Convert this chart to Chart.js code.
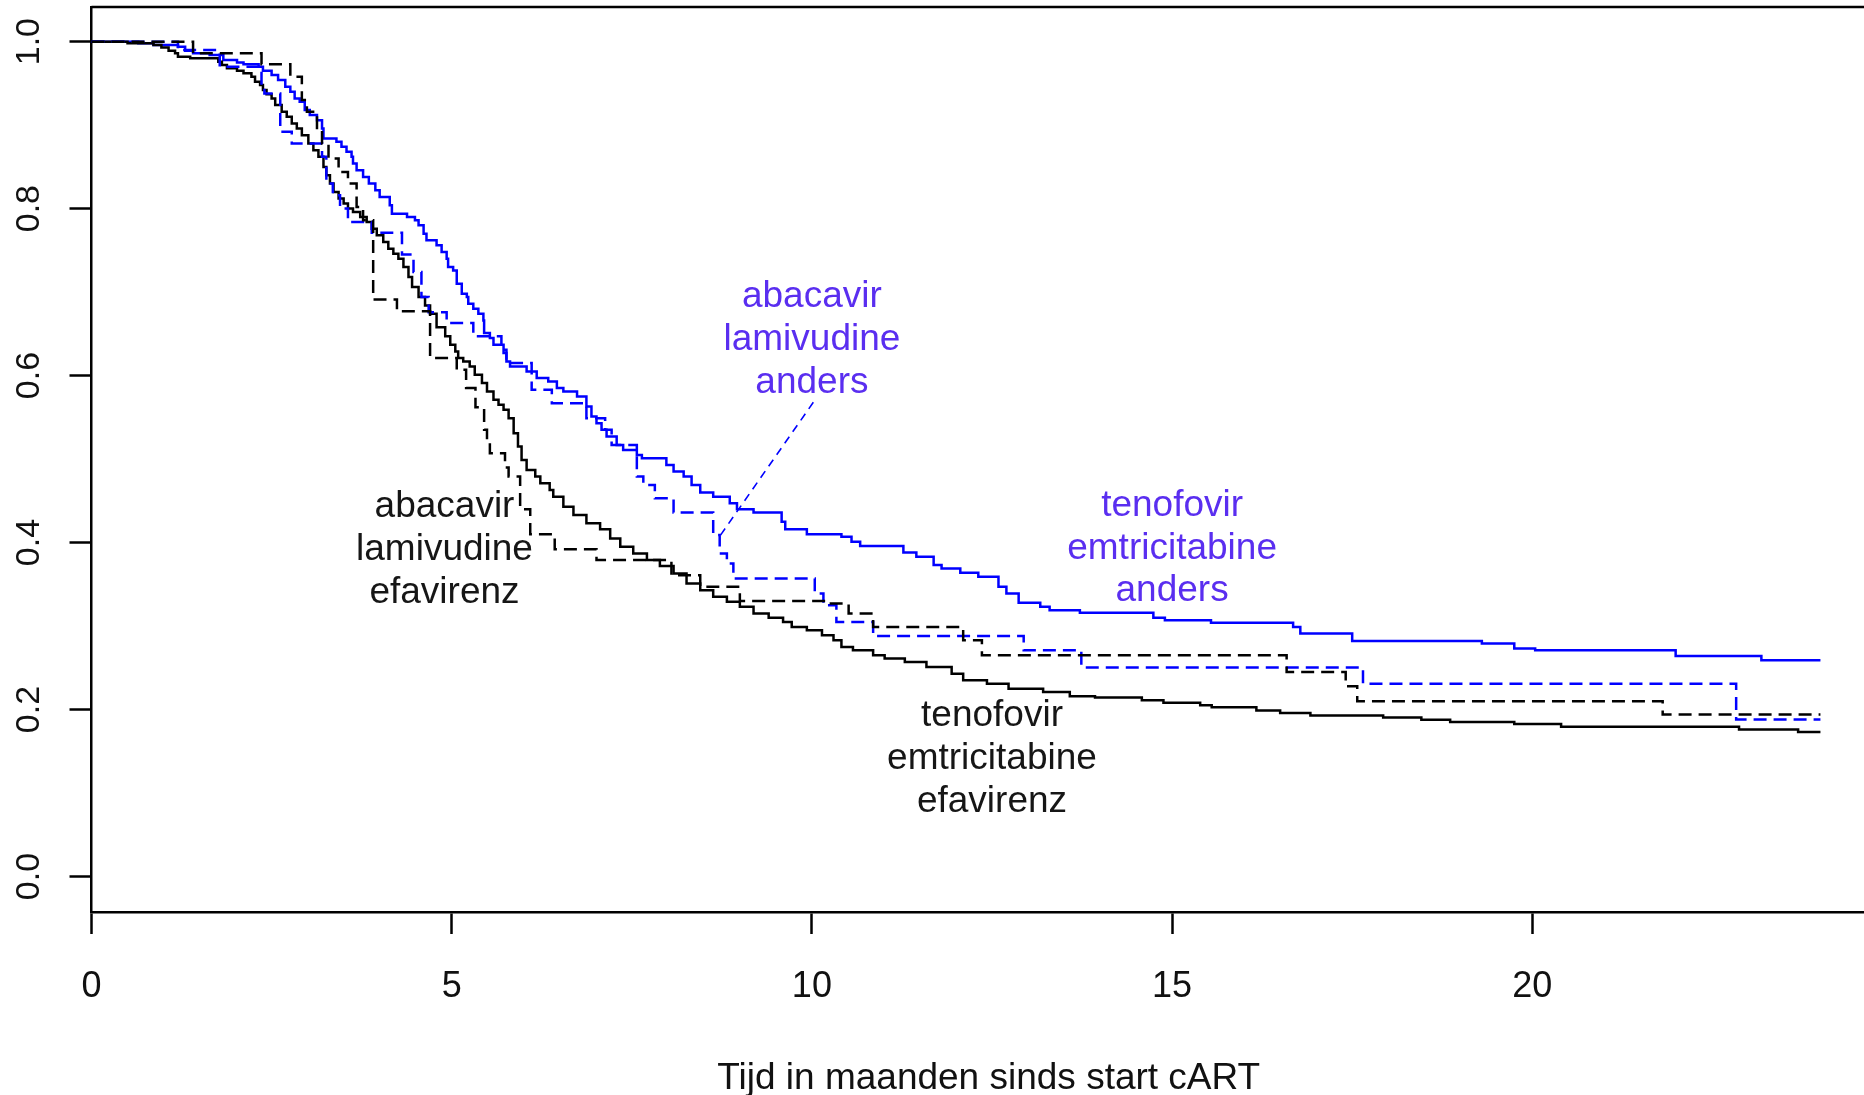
<!DOCTYPE html>
<html>
<head>
<meta charset="utf-8">
<script src="https://cdn.jsdelivr.net/npm/chart.js@4.4.1/dist/chart.umd.min.js"></script>
<style>
  html, body { margin: 0; padding: 0; background: #fff; overflow: hidden; }
  #wrap { width: 1864px; height: 1095px; overflow: hidden; }
</style>
</head>
<body>
<div id="wrap"><canvas id="km" width="1886" height="1095"></canvas></div>
<script>
/* Kaplan-Meier curves: time on first cART regimen, by regimen group. */

// tenofovir / emtricitabine / anders (blue, solid)
const tdfAndersT = [0, 0.65, 0.86, 1.2, 1.3, 1.41, 1.64, 1.83, 2.02, 2.11, 2.32, 2.38, 2.5, 2.59, 2.69, 2.76, 2.82, 2.89, 2.96, 3.03, 3.13, 3.2, 3.22, 3.4, 3.47, 3.54, 3.61, 3.63, 3.68, 3.77, 3.85, 3.94, 4.0, 4.14, 4.17, 4.38, 4.49, 4.54, 4.61, 4.65, 4.79, 4.86, 4.93, 4.95, 5.02, 5.07, 5.14, 5.21, 5.23, 5.3, 5.37, 5.44, 5.45, 5.53, 5.58, 5.72, 5.76, 5.81, 6.04, 6.18, 6.34, 6.46, 6.55, 6.74, 6.87, 6.94, 7.01, 7.08, 7.15, 7.29, 7.38, 7.57, 7.64, 7.98, 8.08, 8.22, 8.33, 8.45, 8.63, 8.86, 8.96, 9.19, 9.58, 9.63, 9.93, 10.41, 10.55, 10.67, 11.27, 11.45, 11.69, 11.8, 12.06, 12.31, 12.59, 12.7, 12.87, 13.17, 13.3, 13.72, 14.74, 14.9, 15.54, 16.68, 16.78, 17.5, 19.3, 19.75, 20.04, 21.99, 23.18, 24];
const tdfAndersS = [1, 0.998, 0.996, 0.994, 0.989, 0.986, 0.984, 0.978, 0.975, 0.973, 0.97, 0.965, 0.96, 0.954, 0.946, 0.94, 0.932, 0.928, 0.918, 0.912, 0.906, 0.896, 0.884, 0.88, 0.874, 0.868, 0.862, 0.854, 0.846, 0.838, 0.83, 0.822, 0.814, 0.804, 0.794, 0.79, 0.786, 0.78, 0.77, 0.762, 0.756, 0.748, 0.74, 0.73, 0.726, 0.71, 0.698, 0.694, 0.686, 0.68, 0.674, 0.666, 0.651, 0.645, 0.637, 0.627, 0.617, 0.611, 0.605, 0.597, 0.593, 0.585, 0.581, 0.575, 0.563, 0.551, 0.543, 0.535, 0.527, 0.517, 0.511, 0.505, 0.501, 0.493, 0.485, 0.479, 0.469, 0.46, 0.455, 0.447, 0.44, 0.436, 0.425, 0.416, 0.41, 0.407, 0.401, 0.396, 0.388, 0.383, 0.373, 0.369, 0.364, 0.359, 0.347, 0.339, 0.328, 0.323, 0.319, 0.316, 0.31, 0.307, 0.304, 0.299, 0.291, 0.282, 0.279, 0.273, 0.271, 0.264, 0.259, 0.259];

// tenofovir / emtricitabine / efavirenz (black, solid)
const tdfEfvT = [0, 0.5, 0.86, 0.97, 1.07, 1.16, 1.2, 1.37, 1.76, 1.81, 1.88, 2.02, 2.11, 2.22, 2.27, 2.34, 2.38, 2.43, 2.5, 2.55, 2.64, 2.71, 2.78, 2.85, 2.92, 3.01, 3.08, 3.15, 3.22, 3.26, 3.31, 3.36, 3.43, 3.5, 3.56, 3.63, 3.73, 3.82, 3.89, 3.96, 4.05, 4.12, 4.19, 4.26, 4.33, 4.4, 4.45, 4.54, 4.63, 4.7, 4.79, 4.91, 4.98, 5.05, 5.09, 5.16, 5.25, 5.32, 5.42, 5.49, 5.58, 5.65, 5.72, 5.79, 5.86, 5.92, 5.97, 6.04, 6.16, 6.23, 6.36, 6.41, 6.55, 6.69, 6.87, 7.06, 7.2, 7.34, 7.52, 7.71, 7.89, 8.08, 8.26, 8.45, 8.63, 8.82, 9.0, 9.19, 9.4, 9.6, 9.72, 9.93, 10.14, 10.3, 10.41, 10.57, 10.85, 11.01, 11.29, 11.59, 11.94, 12.1, 12.43, 12.73, 13.21, 13.58, 13.93, 14.58, 14.88, 15.39, 15.55, 16.17, 16.5, 16.92, 17.93, 18.46, 18.86, 19.75, 20.4, 22.87, 23.69, 24];
const tdfEfvS = [1, 0.998, 0.996, 0.993, 0.989, 0.986, 0.982, 0.98, 0.976, 0.972, 0.968, 0.965, 0.962, 0.958, 0.952, 0.948, 0.942, 0.937, 0.932, 0.924, 0.916, 0.91, 0.902, 0.896, 0.888, 0.878, 0.87, 0.862, 0.85, 0.84, 0.83, 0.82, 0.812, 0.806, 0.8, 0.796, 0.79, 0.784, 0.776, 0.768, 0.76, 0.752, 0.746, 0.74, 0.73, 0.718, 0.706, 0.694, 0.684, 0.674, 0.658, 0.647, 0.637, 0.629, 0.621, 0.617, 0.611, 0.601, 0.591, 0.581, 0.571, 0.565, 0.559, 0.549, 0.531, 0.515, 0.499, 0.487, 0.479, 0.471, 0.463, 0.455, 0.443, 0.433, 0.423, 0.416, 0.405, 0.395, 0.387, 0.379, 0.372, 0.363, 0.351, 0.343, 0.335, 0.329, 0.323, 0.315, 0.31, 0.305, 0.299, 0.295, 0.289, 0.283, 0.275, 0.271, 0.265, 0.261, 0.257, 0.251, 0.243, 0.235, 0.231, 0.225, 0.221, 0.216, 0.2145, 0.211, 0.208, 0.205, 0.2026, 0.199, 0.196, 0.193, 0.1906, 0.1877, 0.185, 0.1826, 0.1794, 0.176, 0.173, 0.173];

// abacavir / lamivudine / anders (blue, dashed)
const abcAndersT = [0, 1.2, 1.78, 2.36, 2.4, 2.62, 2.78, 3.2, 3.26, 3.35, 3.45, 3.56, 3.89, 4.31, 4.47, 4.58, 4.68, 4.93, 5.3, 5.69, 5.76, 6.11, 6.39, 6.87, 7.13, 7.22, 7.57, 7.66, 7.82, 8.08, 8.63, 8.72, 8.82, 8.91, 10.04, 10.16, 10.34, 10.85, 12.94, 13.74, 17.65, 22.83, 24];
const abcAndersS = [1, 0.99, 0.97, 0.95, 0.938, 0.892, 0.878, 0.862, 0.83, 0.816, 0.8, 0.784, 0.771, 0.745, 0.724, 0.694, 0.676, 0.663, 0.647, 0.631, 0.615, 0.583, 0.567, 0.549, 0.535, 0.517, 0.479, 0.469, 0.453, 0.436, 0.409, 0.387, 0.375, 0.357, 0.339, 0.325, 0.305, 0.288, 0.271, 0.2505, 0.231, 0.188, 0.188];

// abacavir / lamivudine / efavirenz (black, dashed)
const abcEfvT = [0, 1.41, 2.36, 2.76, 2.92, 2.99, 3.13, 3.2, 3.29, 3.43, 3.56, 3.68, 3.77, 3.91, 4.24, 4.7, 5.07, 5.2, 5.33, 5.45, 5.49, 5.53, 5.74, 5.79, 5.95, 6.09, 6.43, 7.01, 8.05, 8.45, 9.0, 10.2, 10.51, 10.85, 12.1, 12.36, 16.59, 17.41, 17.57, 21.81, 24];
const abcEfvS = [1, 0.986, 0.973, 0.958, 0.93, 0.916, 0.894, 0.878, 0.86, 0.844, 0.83, 0.802, 0.786, 0.691, 0.677, 0.621, 0.607, 0.585, 0.562, 0.535, 0.523, 0.507, 0.49, 0.479, 0.44, 0.41, 0.392, 0.379, 0.361, 0.347, 0.33, 0.327, 0.315, 0.299, 0.283, 0.265, 0.245, 0.228, 0.21, 0.194, 0.194];

// pointer from the "abacavir lamivudine anders" label to its curve
const leaderT = [10.02, 8.7];
const leaderS = [0.568, 0.405];

// curve labels (centre of the middle line, in data units)
const labelText = [
  ["abacavir", "lamivudine", "anders"],
  ["abacavir", "lamivudine", "efavirenz"],
  ["tenofovir", "emtricitabine", "anders"],
  ["tenofovir", "emtricitabine", "efavirenz"],
];
const labelX = [10, 4.9, 15, 12.5];
const labelY = [0.643, 0.391, 0.393, 0.141];
const labelColor = ["#5a2ef0", "#161616", "#5a2ef0", "#161616"];

const xTicks = [0, 5, 10, 15, 20];
const yTicks = [0, 0.2, 0.4, 0.6, 0.8, 1.0];

const FAMILY = '"Liberation Sans", Arial, sans-serif';
const pts = (t, s) => t.map((v, i) => ({ x: v, y: s[i] }));

function curve(t, s, color, dash) {
  return {
    data: pts(t, s),
    borderColor: color,
    borderWidth: 2.5,
    borderDash: dash,
    stepped: true,
    pointRadius: 0,
    fill: false,
  };
}

const annotate = {
  id: "annotate",
  afterDatasetsDraw(chart) {
    const { ctx, chartArea: a, scales: { x, y } } = chart;
    ctx.save();
    // top edge of the frame
    ctx.strokeStyle = "#000";
    ctx.lineWidth = 2.5;
    ctx.beginPath();
    ctx.moveTo(a.left, a.top);
    ctx.lineTo(a.right, a.top);
    ctx.stroke();

    ctx.font = `37px ${FAMILY}`;
    ctx.textAlign = "center";
    ctx.textBaseline = "middle";
    labelText.forEach((lines, i) => {
      const cx = x.getPixelForValue(labelX[i]);
      const cy = y.getPixelForValue(labelY[i]);
      ctx.fillStyle = labelColor[i];
      lines.forEach((s, j) => ctx.fillText(s, cx, cy + (j - 1) * 42.8));
    });
    ctx.restore();
  },
};

new Chart(document.getElementById("km"), {
  type: "line",
  data: {
    datasets: [
      curve(abcEfvT, abcEfvS, "#000", [13, 7]),
      curve(abcAndersT, abcAndersS, "#0000ff", [13, 7]),
      curve(tdfEfvT, tdfEfvS, "#000", []),
      curve(tdfAndersT, tdfAndersS, "#0000ff", []),
      {
        data: pts(leaderT, leaderS),
        borderColor: "#0000ff",
        borderWidth: 1.6,
        borderDash: [8, 6],
        pointRadius: 0,
        fill: false,
      },
    ],
  },
  options: {
    responsive: false,
    animation: false,
    devicePixelRatio: 1,
    layout: { padding: { top: 7, left: 0, right: 0, bottom: 0 } },
    plugins: { legend: { display: false }, tooltip: { enabled: false } },
    scales: {
      x: {
        type: "linear",
        min: 0,
        max: 24.91,
        afterBuildTicks: (s) => { s.ticks = xTicks.map((v) => ({ value: v })); },
        afterFit: (s) => { s.height = 183; s.paddingLeft = 0; s.paddingRight = 0; },
        grid: { drawOnChartArea: false, tickLength: 22, tickWidth: 2.5, tickColor: "#000" },
        border: { display: true, color: "#000", width: 2.5 },
        ticks: { color: "#111", font: { size: 36, family: FAMILY }, padding: 31, maxRotation: 0, autoSkip: false },
        title: {
          display: true,
          text: "Tijd in maanden sinds start cART",
          color: "#111",
          font: { size: 37, family: FAMILY, lineHeight: 1 },
          padding: { top: 0, bottom: -2 },
        },
      },
      y: {
        type: "linear",
        min: -0.0425,
        max: 1.0415,
        afterBuildTicks: (s) => { s.ticks = yTicks.map((v) => ({ value: v })); },
        afterFit: (s) => { s.width = 91.5; s.paddingTop = 0; s.paddingBottom = 0; },
        grid: { drawOnChartArea: false, tickLength: 22, tickWidth: 2.5, tickColor: "#000" },
        border: { display: true, color: "#000", width: 2.5 },
        ticks: {
          color: "#111",
          font: { size: 34, family: FAMILY },
          padding: 16,
          minRotation: 90,
          maxRotation: 90,
          crossAlign: "center",
          callback: (v) => Number(v).toFixed(1),
        },
      },
    },
  },
  plugins: [annotate],
});
</script>
</body>
</html>
